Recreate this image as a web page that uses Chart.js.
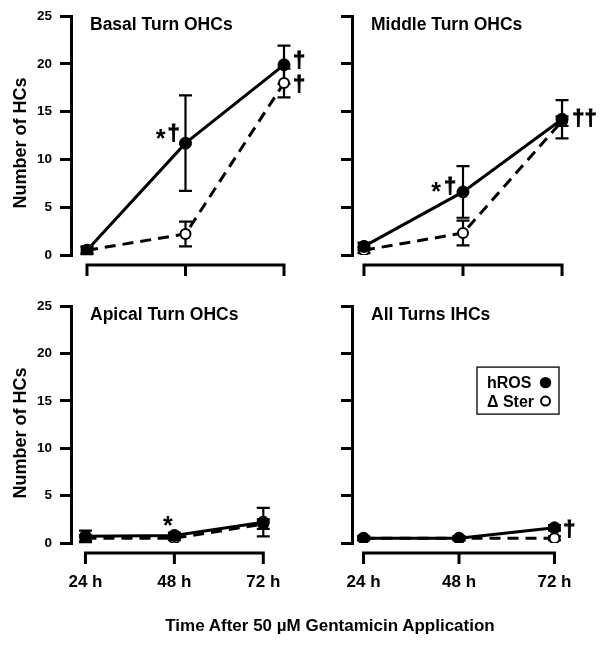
<!DOCTYPE html>
<html><head><meta charset="utf-8">
<script src="https://cdn.jsdelivr.net/npm/chart.js@4.4.0/dist/chart.umd.min.js"></script>
<style>
html,body{margin:0;padding:0;background:#fff;width:602px;height:645px;overflow:hidden;position:relative;font-family:"Liberation Sans",Arial,Helvetica,sans-serif;}
canvas{position:absolute;}
#xtitle{position:absolute;left:330px;top:616px;transform:translateX(-50%);line-height:20px;font-weight:bold;font-size:17px;color:#000;white-space:nowrap;}
</style></head><body>
<canvas id="c1" width="310" height="290" style="left:0px;top:0px;width:310px;height:290px"></canvas>
<canvas id="c2" width="312" height="290" style="left:290px;top:0px;width:312px;height:290px"></canvas>
<canvas id="c3" width="310" height="355" style="left:0px;top:290px;width:310px;height:355px"></canvas>
<canvas id="c4" width="312" height="355" style="left:290px;top:290px;width:312px;height:355px"></canvas>
<div id="xtitle">Time After 50 µM Gentamicin Application</div>
<script>
const FONT = '"Liberation Sans", Arial, Helvetica, sans-serif';
const hours = [24, 48, 72];
const timeLabels = ['24 h', '48 h', '72 h'];
const yTicks = [0, 5, 10, 15, 20, 25];
const seriesNames = ['hROS', 'Δ Ster'];
const yAxisTitle = 'Number of HCs';

const basalHROS = [0.5, 11.7, 19.9];
const basalHROSErr = [0.4, 5.0, 2.0];
const basalSter = [0.5, 2.2, 18.0];
const basalSterErr = [0.3, 1.3, 1.5];

const middleHROS = [0.9, 6.6, 14.2];
const middleHROSErr = [0.4, 2.7, 2.0];
const middleSter = [0.5, 2.3, 14.0];
const middleSterErr = [0.3, 1.3, 0.5];

const apicalHROS = [0.7, 0.8, 2.2];
const apicalHROSErr = [0.6, 0.3, 1.5];
const apicalSter = [0.5, 0.5, 2.0];
const apicalSterErr = [0.3, 0.2, 0.5];

const ihcHROS = [0.5, 0.5, 1.6];
const ihcHROSErr = [0.2, 0.2, 0.3];
const ihcSter = [0.5, 0.5, 0.5];
const ihcSterErr = [0.2, 0.2, 0.2];

function drawCentered(ctx, text, cx, cy, size, thick) {
  ctx.font = 'bold ' + size + 'px ' + FONT;
  ctx.textAlign = 'center';
  ctx.textBaseline = 'alphabetic';
  const m = ctx.measureText(text);
  const y = cy + (m.actualBoundingBoxAscent - m.actualBoundingBoxDescent) / 2;
  ctx.fillText(text, cx, y);
  if (thick) { ctx.lineWidth = thick; ctx.strokeText(text, cx, y); }
}

const panelPlugin = {
  id: 'panel',
  beforeDatasetsDraw(chart) {
    const ctx = chart.ctx, xs = chart.scales.x, ys = chart.scales.y;
    ctx.save();
    ctx.strokeStyle = '#000';
    ctx.lineWidth = 2.2;
    chart.data.datasets.forEach(ds => {
      ds.data.forEach((p, j) => {
        const e = ds.errors[j];
        const x = xs.getPixelForValue(p.x);
        const yt = ys.getPixelForValue(p.y + e);
        const yb = ys.getPixelForValue(Math.max(0, p.y - e));
        ctx.beginPath();
        ctx.moveTo(x, yt); ctx.lineTo(x, yb);
        ctx.moveTo(x - 6.5, yt); ctx.lineTo(x + 6.5, yt);
        ctx.moveTo(x - 6.5, yb); ctx.lineTo(x + 6.5, yb);
        ctx.stroke();
      });
    });
    ctx.restore();
  },
  afterDatasetsDraw(chart) {
    const cfg = chart.options.plugins.panel;
    const ctx = chart.ctx, xs = chart.scales.x, ys = chart.scales.y, ca = chart.chartArea;
    ctx.save();
    const y0 = ca.bottom + 10;
    ctx.strokeStyle = '#000';
    ctx.fillStyle = '#000';
    ctx.lineWidth = 3;
    ctx.beginPath();
    ctx.moveTo(xs.getPixelForValue(hours[0]) - 1.5, y0);
    ctx.lineTo(xs.getPixelForValue(hours[hours.length - 1]) + 1.5, y0);
    hours.forEach(h => {
      const x = xs.getPixelForValue(h);
      ctx.moveTo(x, y0); ctx.lineTo(x, y0 + 11);
    });
    ctx.stroke();
    if (cfg.showY) {
      ctx.save();
      ctx.translate(19, ca.top + 127);
      ctx.rotate(-Math.PI / 2);
      drawCentered(ctx, yAxisTitle, 0, 0, 18, 0);
      ctx.restore();
    }
    ctx.font = 'bold 17.5px ' + FONT;
    ctx.textAlign = 'left';
    ctx.textBaseline = 'alphabetic';
    ctx.fillText(cfg.title, ca.left + 19, ca.top + 14);
    (cfg.annotations || []).forEach(a => {
      const ds = chart.data.datasets[a.ds];
      const p = ds.data[a.idx];
      const x = xs.getPixelForValue(p.x), y = ys.getPixelForValue(p.y);
      drawCentered(ctx, a.text, x + a.dx, y + a.dy, a.size || 22, a.thick === undefined ? 0.9 : a.thick);
    });
    if (cfg.legend) {
      const lx = ca.left + 125, ly = ca.top + 61;
      ctx.lineWidth = 1.3;
      ctx.strokeRect(lx, ly, 82, 47);
      ctx.font = 'bold 16px ' + FONT;
      ctx.textAlign = 'left';
      ctx.textBaseline = 'alphabetic';
      ctx.fillText(seriesNames[0], lx + 10, ly + 21);
      ctx.fillText(seriesNames[1], lx + 10, ly + 40);
      ctx.beginPath();
      ctx.arc(lx + 68.5, ly + 15.5, 5.7, 0, Math.PI * 2);
      ctx.fill();
      ctx.beginPath();
      ctx.lineWidth = 2;
      ctx.arc(lx + 68.5, ly + 34, 4.5, 0, Math.PI * 2);
      ctx.fillStyle = '#fff'; ctx.fill();
      ctx.stroke();
    }
    ctx.restore();
  }
};

function makePanel(id, cfg) {
  const pts = vals => hours.map((h, i) => ({ x: h, y: vals[i] }));
  return new Chart(document.getElementById(id), {
    type: 'line',
    data: {
      datasets: [
        { label: seriesNames[0], data: pts(cfg.hros), errors: cfg.hrosErr, borderColor: '#000', borderWidth: 3,
          pointRadius: 6, pointBackgroundColor: '#000', pointBorderColor: '#000', pointBorderWidth: 1, order: 1, tension: 0 },
        { label: seriesNames[1], data: pts(cfg.ster), errors: cfg.sterErr, borderColor: '#000', borderWidth: 3, borderDash: [11, 7],
          pointRadius: 5, pointBackgroundColor: '#fff', pointBorderColor: '#000', pointBorderWidth: 2, order: 2, tension: 0 }
      ]
    },
    options: {
      responsive: false, animation: false, devicePixelRatio: 1,
      layout: { padding: { top: cfg.padTop, right: cfg.padRight, left: 0, bottom: 0 } },
      plugins: { legend: { display: false }, tooltip: { enabled: false },
        panel: { title: cfg.title, annotations: cfg.annotations, legend: cfg.legend, showY: cfg.showY } },
      scales: {
        x: {
          type: 'linear', min: cfg.xmin, max: cfg.xmax,
          afterBuildTicks: s => { s.ticks = hours.map(v => ({ value: v })); },
          afterFit: s => { s.height = cfg.xh; },
          grid: { display: false, drawTicks: false }, border: { display: false },
          ticks: { display: cfg.showX, padding: 29, color: '#000', autoSkip: false, maxRotation: 0,
            font: { family: FONT, size: 17, weight: 'bold' },
            callback: v => { const i = hours.indexOf(v); return i >= 0 ? timeLabels[i] : ''; } }
        },
        y: {
          min: 0, max: 25,
          afterBuildTicks: s => { s.ticks = yTicks.map(v => ({ value: v })); },
          afterFit: s => { s.width = cfg.yw; },
          grid: { drawOnChartArea: false, drawTicks: true, tickLength: 11, color: '#000', lineWidth: 3 },
          border: { display: true, color: '#000', width: 3 },
          ticks: { padding: 8, color: '#000', font: { family: FONT, size: 13.5, weight: 'bold' },
            callback: v => cfg.showY ? String(v) : '' }
        }
      }
    },
    plugins: [panelPlugin]
  });
}

makePanel('c1', {
  title: 'Basal Turn OHCs', hros: basalHROS, hrosErr: basalHROSErr, ster: basalSter, sterErr: basalSterErr,
  xmin: 20.1, xmax: 75.9, yw: 71, padTop: 15, padRight: 10, xh: 35, showX: false, showY: true,
  annotations: [
    { ds: 0, idx: 1, text: '*', dx: -25, dy: -9, size: 25, thick: 0 },
    { ds: 0, idx: 1, text: '†', dx: -12, dy: -10 },
    { ds: 0, idx: 2, text: '†', dx: 15, dy: -5 },
    { ds: 1, idx: 2, text: '†', dx: 15, dy: 1 }
  ]
});
makePanel('c2', {
  title: 'Middle Turn OHCs', hros: middleHROS, hrosErr: middleHROSErr, ster: middleSter, sterErr: middleSterErr,
  xmin: 21.1, xmax: 74.9, yw: 62, padTop: 15, padRight: 28, xh: 35, showX: false, showY: false,
  annotations: [
    { ds: 0, idx: 1, text: '*', dx: -27, dy: -5, size: 25, thick: 0 },
    { ds: 0, idx: 1, text: '†', dx: -13, dy: -6 },
    { ds: 0, idx: 2, text: '††', dx: 22.5, dy: -1.5 }
  ]
});
makePanel('c3', {
  title: 'Apical Turn OHCs', hros: apicalHROS, hrosErr: apicalHROSErr, ster: apicalSter, sterErr: apicalSterErr,
  xmin: 20.1, xmax: 75.9, yw: 71, padTop: 13, padRight: 10, xh: 102, showX: true, showY: true,
  annotations: [
    { ds: 0, idx: 1, text: '*', dx: -6.5, dy: -14, size: 25, thick: 0 }
  ]
});
makePanel('c4', {
  title: 'All Turns IHCs', hros: ihcHROS, hrosErr: ihcHROSErr, ster: ihcSter, sterErr: ihcSterErr,
  xmin: 21.1, xmax: 74.9, yw: 62, padTop: 13, padRight: 28, xh: 102, showX: true, showY: false, legend: true,
  annotations: [
    { ds: 0, idx: 2, text: '†', dx: 15, dy: 1.5 }
  ]
});
</script>
</body></html>
